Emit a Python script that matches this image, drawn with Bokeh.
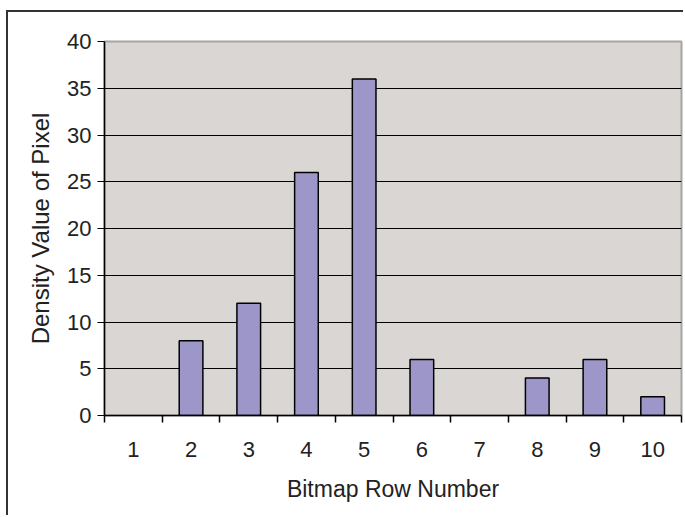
from bokeh.plotting import figure
from bokeh.models import FixedTicker, Range1d, ColumnDataSource, CDSView, BooleanFilter
from bokeh.embed import file_html
from bokeh.resources import INLINE

categories = ["1", "2", "3", "4", "5", "6", "7", "8", "9", "10"]
values = [0, 8, 12, 26, 36, 6, 0, 4, 6, 2]
y_ticks = [0, 5, 10, 15, 20, 25, 30, 35, 40]

x = list(range(1, len(categories) + 1))
boundaries = [i + 0.5 for i in range(0, len(categories) + 1)]

FONT = "Liberation Sans"

p = figure(width=677, height=505, output_backend="svg", toolbar_location=None,
           x_range=Range1d(0.5, len(categories) + 0.5), y_range=Range1d(0, 40),
           min_border_left=96, min_border_right=4, min_border_top=29, min_border_bottom=102)
p.styles = {"margin-left": "6px", "margin-top": "10px",
            "border-left": "2px solid #333333", "border-top": "2px solid #333333"}

p.background_fill_color = "#DAD6D3"
p.border_fill_color = "white"
p.outline_line_color = "#A8A4A0"
p.outline_line_width = 2

source = ColumnDataSource(data=dict(x=x, top=values, cat=categories))
view = CDSView(filter=BooleanFilter([v > 0 for v in values]))
p.vbar(x="x", top="top", source=source, view=view, width=0.41,
       fill_color="#9D97C9", line_color="black", line_width=1.5)

# grid
p.xgrid.grid_line_color = None
p.ygrid.ticker = FixedTicker(ticks=y_ticks[1:-1])
p.ygrid.grid_line_color = "black"
p.ygrid.grid_line_width = 1

# y axis
p.yaxis.ticker = FixedTicker(ticks=y_ticks)
p.yaxis.axis_line_color = "black"
p.yaxis.axis_line_width = 1.5
p.yaxis.major_tick_in = 0
p.yaxis.major_tick_out = 7
p.yaxis.major_tick_line_color = "black"
p.yaxis.minor_tick_line_color = None
p.yaxis.major_label_standoff = 6
p.yaxis.major_label_text_font = FONT
p.yaxis.major_label_text_font_size = "22px"
p.yaxis.major_label_text_color = "#222222"
p.yaxis.axis_label = "Density Value of Pixel"
p.yaxis.axis_label_text_font = FONT
p.yaxis.axis_label_text_font_size = "24px"
p.yaxis.axis_label_text_font_style = "normal"
p.yaxis.axis_label_text_color = "#222222"
p.yaxis.axis_label_standoff = 10

# x axis
p.xaxis.ticker = FixedTicker(ticks=x, minor_ticks=boundaries)
p.xaxis.major_label_overrides = {xi: c for xi, c in zip(x, categories)}
p.xaxis.axis_line_color = "black"
p.xaxis.axis_line_width = 1.5
p.xaxis.major_tick_line_color = None
p.xaxis.minor_tick_in = 0
p.xaxis.minor_tick_out = 7
p.xaxis.minor_tick_line_color = "black"
p.xaxis.minor_tick_line_width = 1.5
p.xaxis.major_label_standoff = 19
p.xaxis.major_label_text_font = FONT
p.xaxis.major_label_text_font_size = "22px"
p.xaxis.major_label_text_color = "#222222"
p.xaxis.axis_label = "Bitmap Row Number"
p.xaxis.axis_label_text_font = FONT
p.xaxis.axis_label_text_font_size = "23px"
p.xaxis.axis_label_text_font_style = "normal"
p.xaxis.axis_label_text_color = "#222222"
p.xaxis.axis_label_standoff = 16

open("out.html", "w").write(file_html(p, INLINE))
